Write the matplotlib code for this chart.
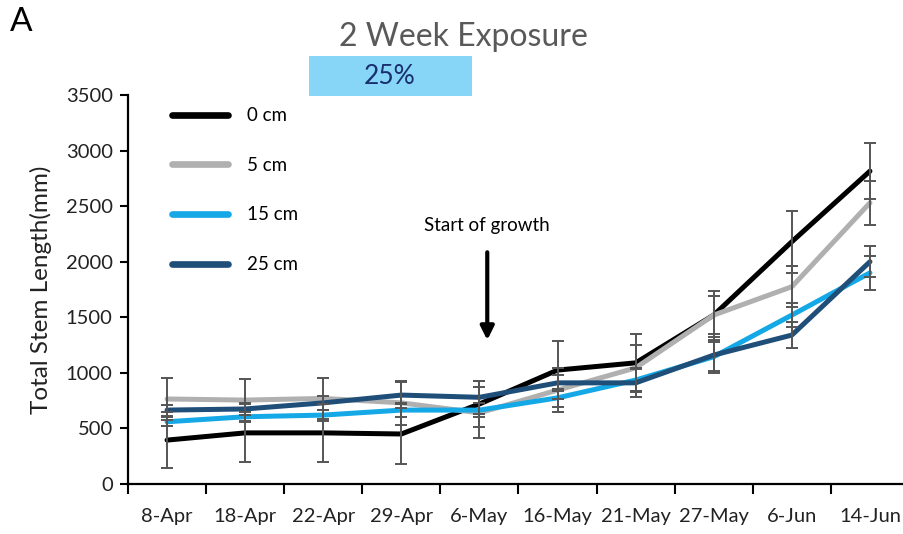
import numpy as np
import matplotlib.pyplot as plt

plt.rcParams['font.family'] = ['Lato', 'DejaVu Sans']

dates = ['8-Apr', '18-Apr', '22-Apr', '29-Apr', '6-May',
         '16-May', '21-May', '27-May', '6-Jun', '14-Jun']
labels = ['0 cm', '5 cm', '15 cm', '25 cm']

len_0 = [395, 460, 460, 450, 720, 1025, 1090, 1520, 2180, 2815]
len_5 = [765, 755, 770, 730, 640, 845, 1045, 1520, 1775, 2530]
len_15 = [560, 605, 620, 665, 665, 775, 935, 1145, 1520, 1900]
len_25 = [665, 675, 730, 800, 780, 910, 910, 1160, 1340, 2000]

err_0 = [250, 260, 260, 270, 210, 260, 260, 220, 280, 250]
err_5 = [190, 190, 185, 195, 230, 200, 210, 170, 185, 200]
err_15 = [40, 45, 50, 60, 60, 80, 100, 130, 110, 150]
err_25 = [50, 55, 60, 120, 150, 70, 130, 160, 120, 140]

colors = ['#000000', '#b0b0b0', '#15a8e6', '#1f4e79']

fig = plt.figure(figsize=(9.04, 5.34), dpi=100)
W, H = 904, 534
ax = fig.add_axes([128 / W, 50 / H, 781 / W, 389 / H])

x = np.arange(len(dates))
series = [len_0, len_5, len_15, len_25]
errs = [err_0, err_5, err_15, err_25]

for y, c, lab in zip(series, colors, labels):
    ax.plot(x, y, color=c, lw=3.6, label=lab, zorder=3, solid_capstyle='round')
for y, e in zip(series, errs):
    ax.errorbar(x, y, yerr=e, fmt='none', ecolor='#555555', elinewidth=1.4,
                capsize=4.5, capthick=1.4, zorder=4)

ax.set_xlim(-0.5, 9.5)
ax.set_ylim(0, 3500)
ax.set_yticks(np.arange(0, 3501, 500))
ax.tick_params(axis='y', direction='out', length=6, width=1.5, labelsize=14.5,
               pad=5, labelcolor='#222222')

# category boundaries get the tick marks, centres get the labels
ax.set_xticks(np.arange(-0.5, 9, 1))
ax.set_xticklabels([])
ax.set_xticks(x, minor=True)
ax.set_xticklabels(dates, minor=True, fontsize=14.5, color='#222222')
ax.tick_params(axis='x', which='major', direction='out', length=7, width=1.5)
ax.tick_params(axis='x', which='minor', length=0, pad=17)

for s in ['top', 'right']:
    ax.spines[s].set_visible(False)
for s in ['left', 'bottom']:
    ax.spines[s].set_linewidth(1.6)

ax.set_ylabel('Total Stem Length(mm)', fontsize=17.5, color='#222222')
ax.yaxis.set_label_coords(-0.097, 0.5)

leg = ax.legend(loc='upper left', bbox_to_anchor=(0.035, 1.012), frameon=False,
                handlelength=3.0, handletextpad=1.0, labelspacing=1.74, fontsize=13.5)
for h in leg.get_lines():
    h.set_linewidth(4.8)

ax.annotate('', xy=(4.1, 1270), xytext=(4.1, 2110),
            arrowprops=dict(arrowstyle='-|>', color='black', lw=3, mutation_scale=20))
ax.text(4.1, 2330, 'Start of growth', ha='center', va='center', fontsize=13.5)

fig.text(10 / W, 1 - 22 / H, 'A', fontsize=24, ha='left', va='center')
fig.text(463 / W, 1 - 37 / H, '2 Week Exposure', fontsize=23, color='#595959',
         ha='center', va='center')
fig.patches.append(plt.Rectangle((309 / W, 1 - 96 / H), 163 / W, 40 / H,
                                 transform=fig.transFigure, facecolor='#87d6f8',
                                 edgecolor='none'))
fig.text(390 / W, 1 - 77 / H, '25%', fontsize=19, color='#1a2f6e',
         ha='center', va='center')

fig.savefig('out.png', dpi=100)
